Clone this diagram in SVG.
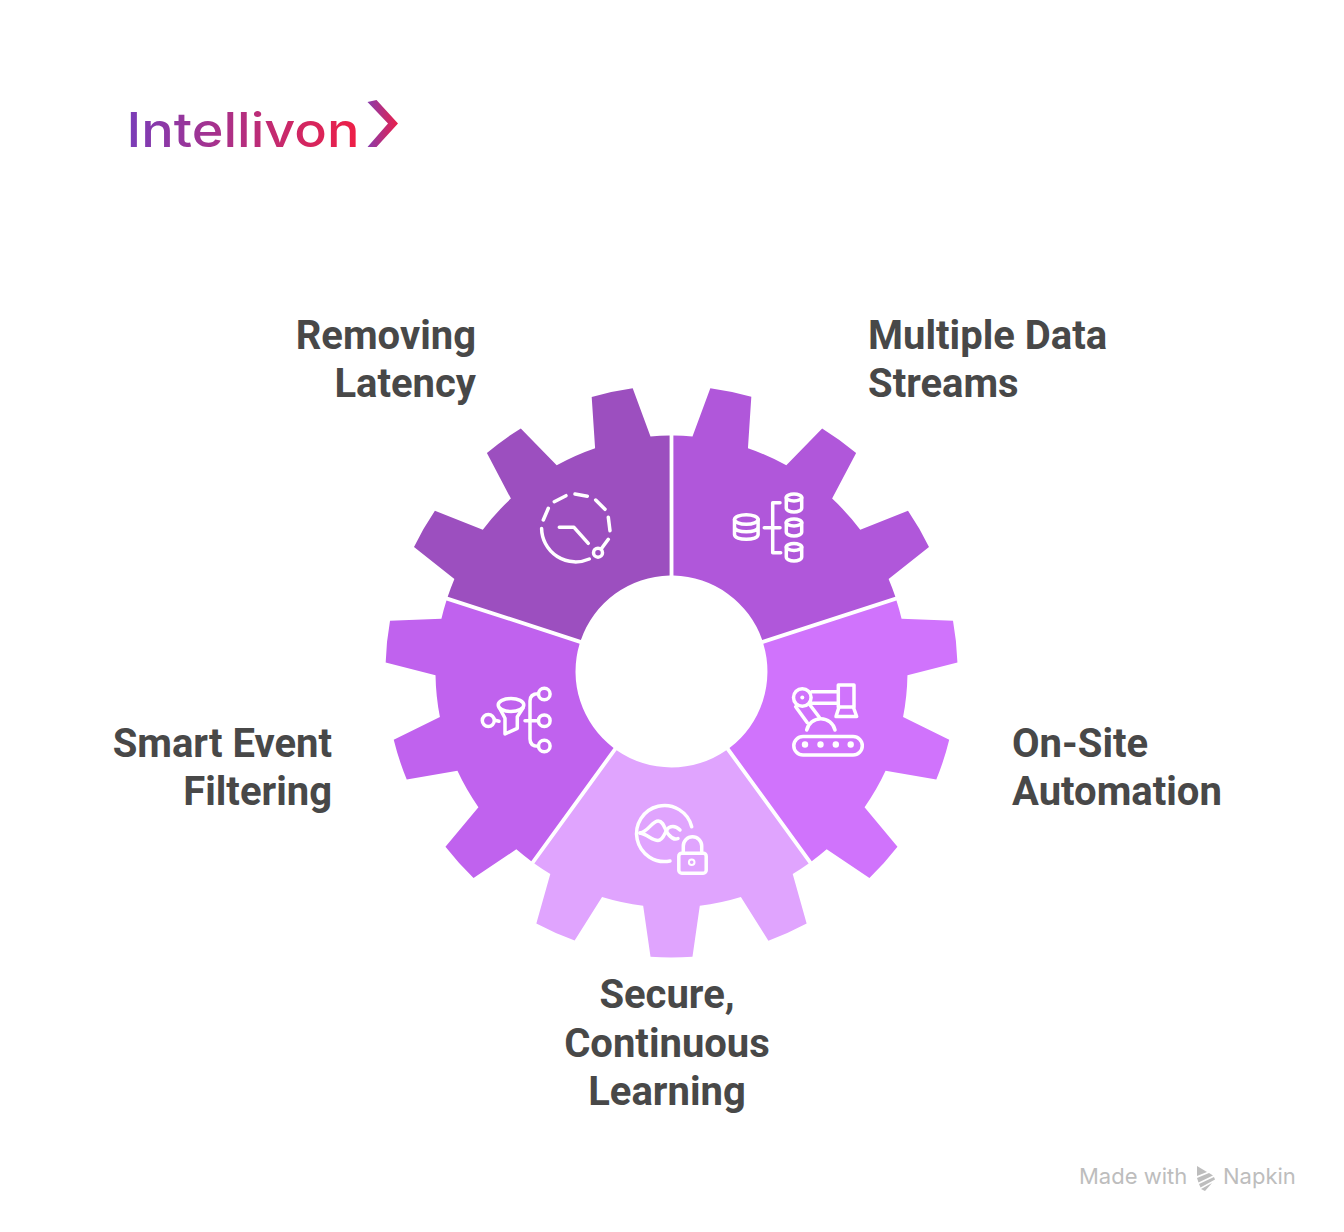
<svg xmlns="http://www.w3.org/2000/svg" width="1344" height="1232" viewBox="0 0 1344 1232">
  <style>
    .label { font-family: Roboto, "Liberation Sans", sans-serif; font-weight: 700; font-size: 40px; fill: #484848; }
    .icon { fill: none; stroke: #fff; stroke-width: 3.5; stroke-linecap: round; stroke-linejoin: round; }
    .dot { fill: #fff; stroke: none; }
    .mark { font-family: Inter, "Noto Sans", sans-serif; font-size: 22px; fill: #bdbdbd; }
  </style>
  <defs>
    <linearGradient id="logoText" gradientUnits="userSpaceOnUse" x1="128" y1="0" x2="358" y2="0">
      <stop offset="0" stop-color="#7a3db8"/>
      <stop offset="1" stop-color="#ee1f46"/>
    </linearGradient>
    <linearGradient id="logoChevron" gradientUnits="userSpaceOnUse" x1="368" y1="0" x2="398" y2="0">
      <stop offset="0" stop-color="#8a3cab"/>
      <stop offset="1" stop-color="#ea1f4a"/>
    </linearGradient>
    <path id="segment" d="M669.6 435.5A236 236 0 0 0 650.5 436.4L632.7 388.15A286 286 0 0 0 591.7 396.9L595.1 448.2A236 236 0 0 0 556.7 465.3L520.8 428.4A286 286 0 0 0 486.9 453.1L510.9 498.6A236 236 0 0 0 482.8 529.8L434.9 510.7A286 286 0 0 0 414 547L454.4 578.9A236 236 0 0 0 447.7 596.8L580.9 640A96 96 0 0 1 669.6 575.5Z"/>
  </defs>
  <rect width="1344" height="1232" fill="#fff"/>

  <g id="logo">
    <text x="126.5" y="146.5" font-family="Inter, 'Noto Sans', sans-serif" font-size="47.5" font-weight="500" fill="url(#logoText)" textLength="233" lengthAdjust="spacingAndGlyphs">Intellivon</text>
    <polygon points="367.5,102 376.5,100 398,123.5 376.5,147 367.5,147 388,123.5" fill="url(#logoChevron)"/>
  </g>

  <g id="node-removing-latency">
    <use href="#segment" fill="#9c4fbf"/>
    <g class="icon">
      <path d="M541.6 528.5A34 34 0 0 0 589.3 559"/>
      <path d="M543.3 520L548.3 508.3M554.3 501.7L566 495.7M575 494L587.3 496.3M595.7 500L605 509.3M608.3 517.3L610 530.7M601.7 548.3L608.3 539.3"/>
      <circle cx="598" cy="552.7" r="4.5"/>
      <path d="M559.3 527.3H574L588.3 543.3"/>
    </g>
    <text class="label" text-anchor="end" x="476" y="349">Removing</text>
    <text class="label" text-anchor="end" x="476" y="397">Latency</text>
  </g>

  <g id="node-multiple-data-streams">
    <use href="#segment" fill="#b057da" transform="rotate(72 671.5 671.5)"/>
    <g class="icon">
      <ellipse cx="746.3" cy="519.5" rx="11.8" ry="4.8"/>
      <path d="M734.5 519.5V534.5C734.5 537.5 740 539.3 746.3 539.3S758.1 537.5 758.1 534.5V519.5M734.5 527C734.5 530 740 531.8 746.3 531.8S758.1 530 758.1 527"/>
      <path d="M764.3 527.7H780M780 502.7H772.7V552.7H780.7"/>
      <ellipse cx="794" cy="497.5" rx="7.7" ry="3.4"/>
      <path d="M786.3 497.5V508C786.3 510.3 790 512 794 512S801.7 510.3 801.7 508V497.5"/>
      <ellipse cx="794" cy="522.5" rx="7.7" ry="3.4"/>
      <path d="M786.3 522.5V532C786.3 534.3 790 536 794 536S801.7 534.3 801.7 532V522.5"/>
      <ellipse cx="794" cy="547" rx="7.7" ry="3.4"/>
      <path d="M786.3 547V557C786.3 559.3 790 561 794 561S801.7 559.3 801.7 557V547"/>
    </g>
    <text class="label" x="868" y="349">Multiple Data</text>
    <text class="label" x="868" y="397">Streams</text>
  </g>

  <g id="node-on-site-automation">
    <use href="#segment" fill="#d073fc" transform="rotate(144 671.5 671.5)"/>
    <g class="icon">
      <rect x="793.8" y="736.5" width="68.5" height="18.5" rx="9.2"/>
      <path d="M806.7 730A14.5 14.5 0 0 1 835 730"/>
      <circle cx="802.3" cy="697.5" r="8.8"/>
      <circle class="dot" cx="802.3" cy="697.5" r="2"/>
      <path d="M795.7 706.7L807.3 722.7M810 705L819.3 717.3M811.7 691.7H838.3M811.7 703.3H838.3"/>
      <rect x="838.3" y="685" width="15.7" height="22"/>
      <path d="M839 707L836 716.5H856.7L853.3 707"/>
    </g>
    <g class="dot">
      <circle cx="805" cy="744.5" r="3.2"/>
      <circle cx="820.5" cy="744.5" r="3.2"/>
      <circle cx="835.8" cy="744.5" r="3.2"/>
      <circle cx="850.7" cy="744.5" r="3.2"/>
    </g>
    <text class="label" x="1012" y="757">On-Site</text>
    <text class="label" x="1012" y="805">Automation</text>
  </g>

  <g id="node-secure-continuous-learning">
    <use href="#segment" fill="#e0a4fe" transform="rotate(216 671.5 671.5)"/>
    <g class="icon">
      <path d="M691.7 826.7A28 28 0 1 0 670 861"/>
      <path d="M640 833C648 832 652 821 658.3 821C664 821 665 831 669 835C672 838.5 675 840 678 838.5"/>
      <path d="M640 833C647 834 652 840.5 658 840.5C664 840.5 665 830 669 827.5C673 825.5 677 827 680 830"/>
      <rect x="678.8" y="853.2" width="27.4" height="20" rx="3"/>
      <path d="M683.3 853V846A9.2 9.2 0 0 1 701.7 846V853"/>
      <circle cx="691.7" cy="862.3" r="2.8" stroke-width="2"/>
    </g>
    <text class="label" text-anchor="middle" x="667" y="1008">Secure,</text>
    <text class="label" text-anchor="middle" x="667" y="1057">Continuous</text>
    <text class="label" text-anchor="middle" x="667" y="1105">Learning</text>
  </g>

  <g id="node-smart-event-filtering">
    <use href="#segment" fill="#c062ee" transform="rotate(288 671.5 671.5)"/>
    <g class="icon">
      <circle cx="488.3" cy="720.5" r="6"/>
      <path d="M495 720.3L499 721.3"/>
      <ellipse cx="511" cy="705" rx="12.8" ry="6.5"/>
      <path d="M499.5 708L505 718.3V734L517.3 728.3V716.7L523 708"/>
      <path d="M538.3 693.7C533 693.7 530 696 530 701V739C530 744 533 746.3 538.3 746.3M525 720.7H538"/>
      <circle cx="544.3" cy="694" r="5.8"/>
      <circle cx="544.3" cy="720.7" r="5.8"/>
      <circle cx="544.3" cy="746" r="5.8"/>
    </g>
    <text class="label" text-anchor="end" x="332" y="757">Smart Event</text>
    <text class="label" text-anchor="end" x="332" y="805">Filtering</text>
  </g>

  <g id="watermark">
    <text class="mark" x="1079" y="1184">Made with</text>
    <g fill="#bdbdbd">
      <polygon points="1197,1166 1207,1172 1197,1176"/>
      <polygon points="1197,1178 1209,1173 1213,1175.5 1198.5,1182.5"/>
      <polygon points="1199,1184 1214,1177 1215,1179.5 1200.5,1187.5"/>
      <polygon points="1201,1189 1212,1183 1205,1191"/>
    </g>
    <text class="mark" x="1223" y="1184">Napkin</text>
  </g>
</svg>
